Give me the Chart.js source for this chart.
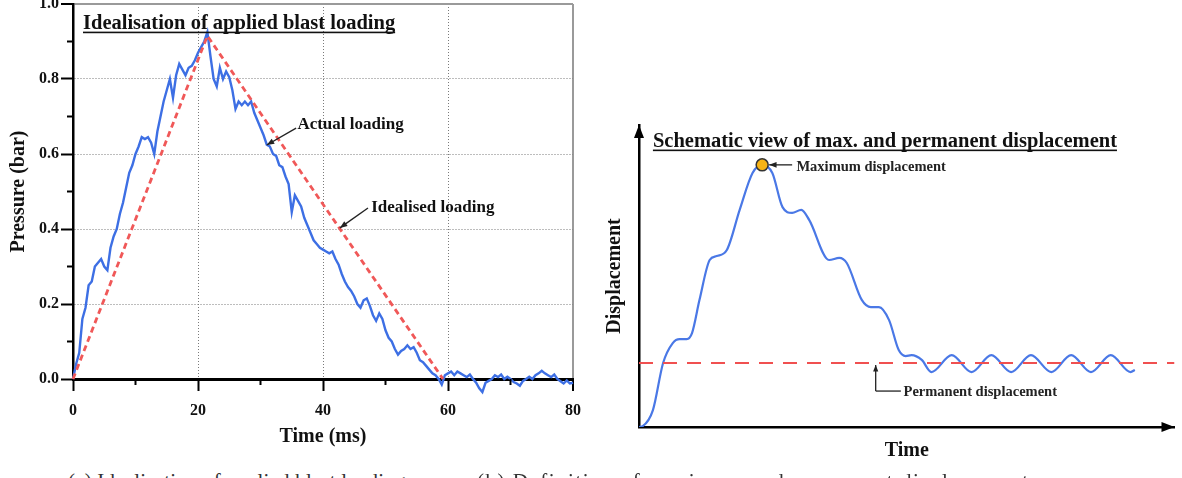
<!DOCTYPE html>
<html lang="en">
<head>
  <meta charset="UTF-8">
  <title>Blast loading idealisation and displacement definition</title>
  <script src="https://cdn.jsdelivr.net/npm/chart.js"></script>
  <style>
    body { margin: 0; background: #fff; width: 1182px; height: 478px; overflow: hidden; position: relative; }
    #blastChart { position: absolute; left: 0; top: 0; }
    #dispChart { position: absolute; left: 590px; top: 100px; }
    .caption { position: absolute; top: 469px; font-family: "Liberation Serif", serif; font-size: 21px; color: #333; white-space: nowrap; }
  </style>
</head>
<body>
  <canvas id="blastChart" width="600" height="460"></canvas>
  <canvas id="dispChart" width="592" height="370"></canvas>
  <div class="caption" style="left:68px; letter-spacing:0.2px">(a) Idealisation of applied blast loading</div>
  <div class="caption" style="left:477px; letter-spacing:1.5px">(b) Definition of maximum and permanent displacements</div>

  <script>
    // ---- (a) measured blast pressure, one sample every 0.5 ms ----
    const SAMPLE_MS = 0.5;
    const actualLoading = [
      0.00, 0.04, 0.07, 0.16, 0.19, 0.25, 0.26, 0.30, 0.31, 0.32,
      0.30, 0.29, 0.35, 0.38, 0.40, 0.44, 0.47, 0.51, 0.55, 0.57,
      0.60, 0.62, 0.645, 0.64, 0.645, 0.63, 0.60, 0.66, 0.70, 0.74,
      0.77, 0.80, 0.75, 0.81, 0.84, 0.825, 0.81, 0.83, 0.835, 0.85,
      0.87, 0.885, 0.90, 0.925, 0.86, 0.80, 0.78, 0.83, 0.80, 0.82,
      0.805, 0.77, 0.72, 0.74, 0.73, 0.74, 0.73, 0.74, 0.71, 0.69,
      0.67, 0.65, 0.625, 0.62, 0.60, 0.595, 0.57, 0.565, 0.54, 0.52,
      0.445, 0.49, 0.475, 0.46, 0.43, 0.41, 0.39, 0.37, 0.36, 0.35,
      0.345, 0.34, 0.335, 0.34, 0.32, 0.305, 0.28, 0.26, 0.245, 0.235,
      0.22, 0.20, 0.19, 0.21, 0.215, 0.195, 0.17, 0.155, 0.175, 0.16,
      0.13, 0.11, 0.10, 0.08, 0.065, 0.075, 0.08, 0.09, 0.08, 0.085,
      0.07, 0.05, 0.045, 0.035, 0.025, 0.015, 0.01, 0.0, -0.015, 0.01,
      0.015, 0.02, 0.01, 0.02, 0.015, 0.01, 0.005, 0.012, 0.0, -0.01,
      -0.025, -0.035, -0.01, -0.005, 0.0, 0.01, 0.005, 0.012, 0.0, 0.006,
      0.0, -0.008, -0.012, -0.018, -0.005, 0.0, 0.006, 0.0, 0.01, 0.015,
      0.022, 0.015, 0.01, 0.005, 0.012, 0.0, -0.006, -0.012, -0.004, -0.012,
      -0.01
    ];
    // idealised triangular pulse
    const idealTime = [0, 21.5, 59.2];
    const idealPressure = [0, 0.915, 0];
    const minorTime = [10, 30, 50, 70];
    const minorPressure = [0.1, 0.3, 0.5, 0.7, 0.9];

    // ---- (b) schematic displacement history ----
    const dispTime = [0, 0.7, 2.6, 4.5, 6.3, 7.6, 8.9, 9.9, 11.3, 13.2, 14.5, 16.4, 18.8, 21.2, 23.0,
      24.9, 26.8, 28.6, 30.3, 31.8, 35.5, 37.4, 38.8, 41.6, 43.3, 44.8, 46.7, 48.5, 49.8, 50.9, 52.8,
      54.6, 58.4, 62.1, 65.8, 69.5, 73.2, 77.0, 80.7, 84.4, 88.1, 91.8, 92.6];
    const dispValue = [0, 0.3, 5.6, 21.2, 27.8, 29.1, 29.1, 31.1, 42.1, 55.3, 56.6, 58.6, 71.9, 84.1, 86.8,
      84.1, 72.8, 70.9, 71.9, 68.5, 55.3, 56.0, 54.3, 42.1, 39.7, 39.7, 35.4, 25.5, 23.5, 23.8, 22.2,
      18.2, 23.8, 18.2, 23.8, 18.2, 23.8, 18.2, 23.8, 18.2, 23.8, 18.2, 18.9];
    const maxTime = [23.0];
    const maxDisp = [86.8];
    const permanentDisp = 21.2;

    const SERIF = '"Liberation Serif", "Times New Roman", serif';
    const INK = '#111';

    function arrow(ctx, x1, y1, x2, y2, head) {
      ctx.beginPath();
      ctx.moveTo(x1, y1);
      ctx.lineTo(x2, y2);
      ctx.stroke();
      const a = Math.atan2(y2 - y1, x2 - x1);
      ctx.beginPath();
      ctx.moveTo(x2, y2);
      ctx.lineTo(x2 - head * Math.cos(a - 0.38), y2 - head * Math.sin(a - 0.38));
      ctx.lineTo(x2 - head * Math.cos(a + 0.38), y2 - head * Math.sin(a + 0.38));
      ctx.closePath();
      ctx.fill();
    }

    function underlined(ctx, text, x, y, font) {
      ctx.font = font;
      ctx.textBaseline = 'alphabetic';
      ctx.textAlign = 'left';
      ctx.fillText(text, x, y);
      ctx.fillRect(x, y + 2.5, ctx.measureText(text).width, 1.6);
    }

    const blastExtras = {
      id: 'blastExtras',
      afterDraw(chart) {
        const { ctx, scales: { x, y } } = chart;
        ctx.save();
        ctx.strokeStyle = '#000';
        ctx.fillStyle = INK;
        ctx.lineWidth = 2;
        minorTime.forEach(v => {
          const px = x.getPixelForValue(v);
          ctx.beginPath(); ctx.moveTo(px, y.bottom); ctx.lineTo(px, y.bottom + 6); ctx.stroke();
        });
        minorPressure.forEach(v => {
          const py = y.getPixelForValue(v);
          ctx.beginPath(); ctx.moveTo(x.left - 6, py); ctx.lineTo(x.left, py); ctx.stroke();
        });

        underlined(ctx, 'Idealisation of applied blast loading',
          x.getPixelForValue(1.6), y.getPixelForValue(0.933), 'bold 20.5px ' + SERIF);

        ctx.font = 'bold 17px ' + SERIF;
        ctx.fillText('Actual loading', x.getPixelForValue(35.9), y.getPixelForValue(0.667));
        ctx.fillText('Idealised loading', x.getPixelForValue(47.7), y.getPixelForValue(0.445));

        ctx.lineWidth = 1.4;
        ctx.strokeStyle = '#222';
        ctx.fillStyle = '#222';
        arrow(ctx, x.getPixelForValue(35.7), y.getPixelForValue(0.669),
          x.getPixelForValue(31.0), y.getPixelForValue(0.624), 8);
        arrow(ctx, x.getPixelForValue(47.2), y.getPixelForValue(0.456),
          x.getPixelForValue(42.7), y.getPixelForValue(0.403), 8);
        ctx.restore();
      }
    };

    const tickFont = { family: SERIF, size: 16, weight: 'bold' };
    const titleFont = { family: SERIF, size: 20, weight: 'bold' };
    const isFrame = (ctx, last) => ctx.tick && Math.abs(ctx.tick.value - last) < 1e-6;

    new Chart(document.getElementById('blastChart'), {
      type: 'line',
      data: {
        datasets: [
          {
            label: 'Idealised loading',
            data: idealTime.map((t, i) => ({ x: t, y: idealPressure[i] })),
            borderColor: '#f05858',
            borderWidth: 2.8,
            borderDash: [6, 4],
            pointRadius: 0,
            clip: false
          },
          {
            label: 'Actual loading',
            data: actualLoading.map((p, i) => ({ x: i * SAMPLE_MS, y: p })),
            borderColor: '#3d6fe4',
            borderWidth: 2.4,
            pointRadius: 0,
            clip: false
          }
        ]
      },
      options: {
        responsive: false,
        animation: false,
        layout: { padding: { left: 0, top: 4, right: 27, bottom: 0 } },
        plugins: { legend: { display: false }, tooltip: { enabled: false } },
        scales: {
          x: {
            type: 'linear', min: 0, max: 80,
            afterFit(s) { s.height = 81; s.paddingLeft = 0; s.paddingRight = 0; },
            ticks: { stepSize: 20, font: tickFont, color: INK, padding: 10, maxRotation: 0 },
            grid: {
              color: ctx => isFrame(ctx, 80) ? '#9a9a9a' : '#7a7a7a',
              lineWidth: ctx => isFrame(ctx, 80) ? 2 : 1,
              tickColor: '#000', tickWidth: 2, tickLength: 12
            },
            border: { color: '#000', width: 3, dash: ctx => isFrame(ctx, 80) ? [] : [1, 2] },
            title: { display: true, text: 'Time (ms)', font: titleFont, color: INK, padding: { top: 0, bottom: 11 } }
          },
          y: {
            min: 0, max: 1,
            afterFit(s) { s.width = 73; s.paddingTop = 0; s.paddingBottom = 0; },
            ticks: { stepSize: 0.2, font: tickFont, color: INK, padding: 2, callback: v => v.toFixed(1) },
            grid: {
              color: ctx => isFrame(ctx, 1) ? '#9a9a9a' : '#7a7a7a',
              lineWidth: ctx => isFrame(ctx, 1) ? 2 : 1,
              tickColor: '#000', tickWidth: 2, tickLength: 12
            },
            border: { color: '#000', width: 2.5, dash: ctx => isFrame(ctx, 1) ? [] : [1, 2] },
            title: { display: true, text: 'Pressure (bar)', font: titleFont, color: INK, padding: { top: 7, bottom: 0 } }
          }
        }
      },
      plugins: [blastExtras]
    });

    const dispExtras = {
      id: 'dispExtras',
      afterDraw(chart) {
        const { ctx, chartArea: a, scales: { x, y } } = chart;
        ctx.save();
        ctx.fillStyle = '#000';
        // arrow heads on both axes
        ctx.beginPath();
        ctx.moveTo(a.right, a.bottom); ctx.lineTo(a.right - 13, a.bottom - 5); ctx.lineTo(a.right - 13, a.bottom + 5);
        ctx.closePath(); ctx.fill();
        ctx.beginPath();
        ctx.moveTo(a.left, a.top); ctx.lineTo(a.left - 5, a.top + 13); ctx.lineTo(a.left + 5, a.top + 13);
        ctx.closePath(); ctx.fill();

        ctx.fillStyle = INK;
        underlined(ctx, 'Schematic view of max. and permanent displacement',
          x.getPixelForValue(2.6), y.getPixelForValue(92.7), 'bold 20.5px ' + SERIF);

        ctx.font = 'bold 14.5px ' + SERIF;
        ctx.fillStyle = '#222';
        ctx.fillText('Maximum displacement', x.getPixelForValue(29.4), y.getPixelForValue(84.8));
        ctx.fillText('Permanent displacement', x.getPixelForValue(49.4), y.getPixelForValue(10.3));

        ctx.strokeStyle = '#222';
        ctx.lineWidth = 1.3;
        arrow(ctx, x.getPixelForValue(28.6), y.getPixelForValue(86.8),
          x.getPixelForValue(24.3), y.getPixelForValue(86.8), 8);
        // leader for permanent displacement
        ctx.beginPath();
        ctx.moveTo(x.getPixelForValue(48.9), y.getPixelForValue(11.9));
        ctx.lineTo(x.getPixelForValue(44.2), y.getPixelForValue(11.9));
        ctx.stroke();
        arrow(ctx, x.getPixelForValue(44.2), y.getPixelForValue(11.9),
          x.getPixelForValue(44.2), y.getPixelForValue(20.5), 7);
        ctx.restore();
      }
    };

    new Chart(document.getElementById('dispChart'), {
      type: 'line',
      data: {
        datasets: [
          {
            label: 'Maximum displacement',
            data: maxTime.map((t, i) => ({ x: t, y: maxDisp[i] })),
            showLine: false,
            pointRadius: 6,
            pointBackgroundColor: '#f6b316',
            pointBorderColor: '#333',
            pointBorderWidth: 1.5
          },
          {
            label: 'Permanent displacement',
            data: [{ x: 0, y: permanentDisp }, { x: 100, y: permanentDisp }],
            borderColor: '#f05050',
            borderWidth: 1.8,
            borderDash: [14, 10],
            pointRadius: 0
          },
          {
            label: 'Displacement',
            data: dispTime.map((t, i) => ({ x: t, y: dispValue[i] })),
            borderColor: '#4a78e6',
            borderWidth: 2.2,
            pointRadius: 0,
            cubicInterpolationMode: 'monotone'
          }
        ]
      },
      options: {
        responsive: false,
        animation: false,
        layout: { padding: { left: 0, top: 25, right: 5, bottom: 0 } },
        plugins: { legend: { display: false }, tooltip: { enabled: false } },
        scales: {
          x: {
            type: 'linear', min: 0, max: 100,
            afterFit(s) { s.height = 43; s.paddingLeft = 0; s.paddingRight = 0; },
            ticks: { display: false },
            grid: { display: false },
            border: { color: '#000', width: 2.5 },
            title: { display: true, text: 'Time', font: titleFont, color: INK, padding: { top: 0, bottom: 7 } }
          },
          y: {
            min: 0, max: 100,
            afterFit(s) { s.width = 49; s.paddingTop = 0; s.paddingBottom = 0; },
            ticks: { display: false },
            grid: { display: false },
            border: { color: '#000', width: 2.5 },
            title: { display: true, text: 'Displacement', font: titleFont, color: INK, padding: { top: 13, bottom: 0 } }
          }
        }
      },
      plugins: [dispExtras]
    });
  </script>
</body>
</html>
